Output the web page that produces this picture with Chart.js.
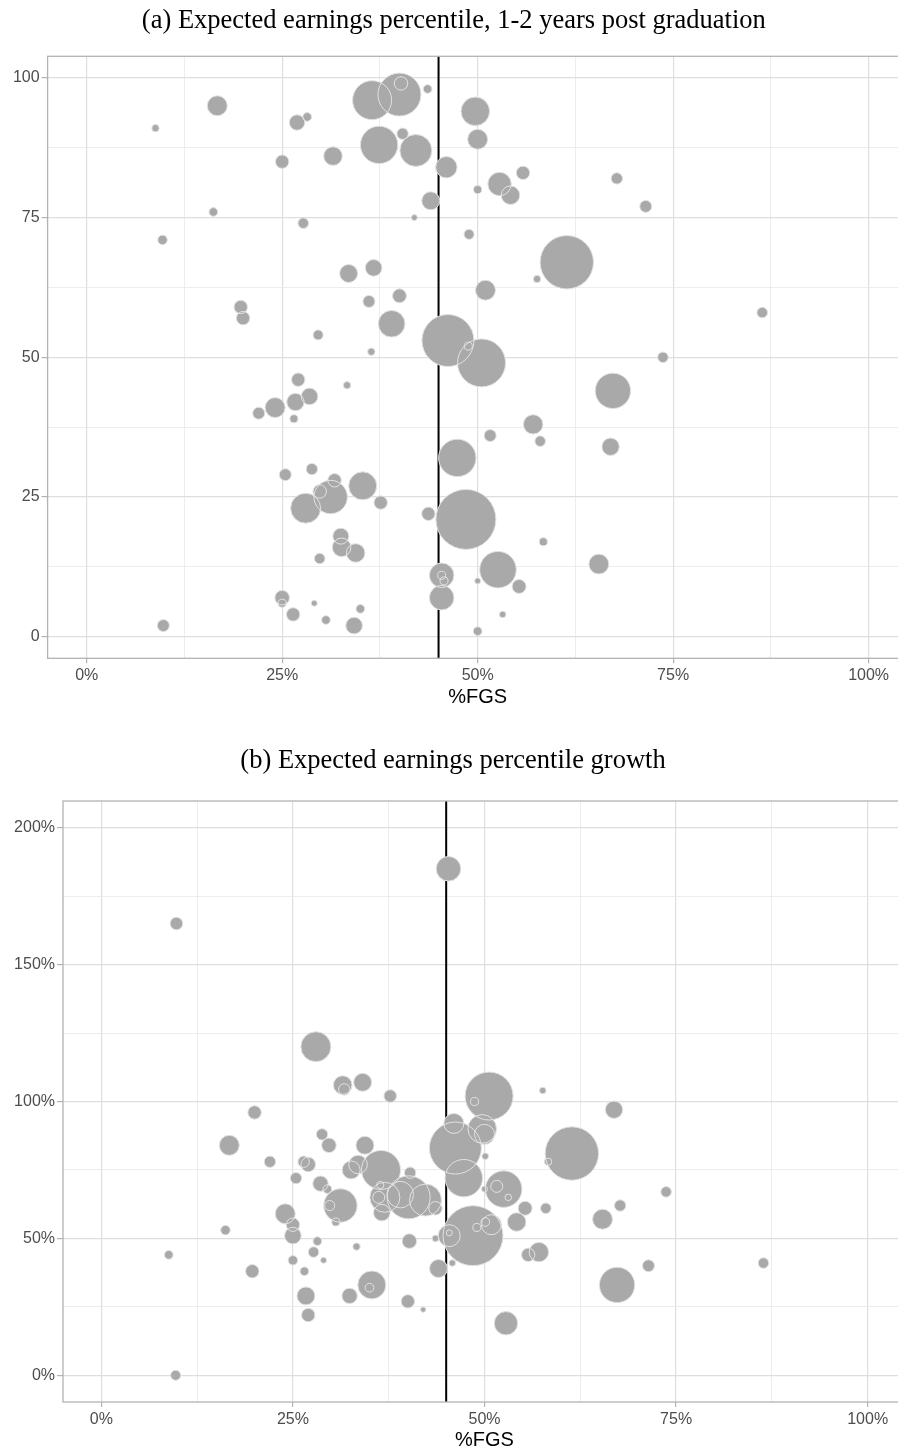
<!DOCTYPE html>
<html>
<head>
<meta charset="utf-8">
<script src="https://cdn.jsdelivr.net/npm/chart.js@4.4.1/dist/chart.umd.min.js"></script>
<style>
  html, body { margin: 0; padding: 0; background: #ffffff; overflow: hidden; }
  #wrap { position: relative; width: 898px; height: 1450px; overflow: hidden; }
  canvas { position: absolute; left: 0; }
  #chartA { top: 0; }
  #chartB { top: 715px; }
</style>
</head>
<body>
<div id="wrap">
  <canvas id="chartA" width="928" height="715"></canvas>
  <canvas id="chartB" width="928" height="745"></canvas>
</div>
<script>
// ---- Panel (a): expected earnings percentile, 1-2 years post graduation ----
const fgsA = [8.8, 16.7, 26.9, 28.2, 36.5, 40.0, 40.2, 43.6, 49.7, 50.0,
  25.0, 31.5, 37.4, 40.4, 42.1, 46.0, 50.0, 44.0, 41.9, 16.2,
  27.7, 9.7, 48.9, 33.5, 36.7, 36.1, 40.0, 19.7, 20.0, 39.0,
  29.6, 36.4, 46.2, 48.8, 50.5, 52.8, 54.2, 55.8, 67.8, 71.5,
  61.4, 57.6, 51.0, 86.4, 73.7, 27.05, 33.3, 28.5, 26.7, 24.1,
  22.0, 26.5, 47.4, 48.5, 43.7, 25.4, 28.8, 31.7, 29.8, 31.2,
  28.0, 35.3, 37.6, 32.5, 32.6, 34.4, 29.8, 45.4, 45.4, 45.7,
  45.4, 50.0, 50.0, 25.0, 25.0, 26.4, 29.1, 30.6, 35.0, 34.2,
  9.8, 67.3, 57.1, 51.6, 58.0, 67.0, 58.4, 65.5, 52.6, 55.3, 53.2];
const earningsPctA = [91, 95, 92, 93, 96, 97, 99, 98, 94, 89,
  85, 86, 88, 90, 87, 84, 80, 78, 75, 76,
  74, 71, 72, 65, 66, 60, 61, 59, 57, 56,
  54, 51, 53, 52, 49, 81, 79, 83, 82, 77,
  67, 64, 62, 58, 50, 46, 45, 43, 42, 41,
  40, 39, 32, 21, 22, 29, 30, 28, 26, 25,
  23, 27, 24, 18, 16, 15, 14, 11, 11, 10,
  7, 10, 1, 7, 6, 4, 6, 3, 5, 2,
  2, 44, 38, 36, 35, 34, 17, 13, 12, 9, 4];
const cohortA = [1.5, 11.1, 6.6, 2.1, 42.3, 51.4, 5.0, 2.1, 22.7, 11.1,
  5.0, 9.6, 38.9, 3.6, 28.4, 12.7, 1.8, 9.0, 1.0, 2.1,
  3.1, 2.5, 2.8, 9.0, 7.7, 4.0, 5.4, 5.0, 5.0, 19.7,
  2.8, 1.5, 75.1, 1.8, 64.0, 15.2, 9.6, 5.0, 3.6, 4.0,
  79.2, 1.5, 11.1, 3.1, 3.1, 5.0, 1.5, 7.7, 8.4, 11.1,
  4.0, 1.8, 38.9, 100, 5.0, 4.0, 3.6, 5.0, 5.0, 31.0,
  25.0, 21.8, 5.0, 7.1, 9.6, 9.6, 3.1, 16.8, 1.8, 1.8,
  16.8, 1.0, 2.1, 5.9, 1.8, 5.0, 1.0, 2.1, 2.1, 7.7,
  4.0, 34.8, 10.5, 4.0, 3.1, 8.4, 1.8, 11.1, 37.2, 5.4, 1.2];

// ---- Panel (b): expected earnings percentile growth ----
const fgsB = [45.3, 9.8, 28.0, 31.5, 31.7, 34.1, 37.7, 50.6, 48.7, 57.6,
  20.0, 16.7, 22.0, 28.8, 29.7, 34.4, 26.4, 27.0, 25.4, 28.6,
  29.5, 32.6, 33.5, 36.5, 40.3, 31.2, 29.8, 30.6, 37.0, 39.0,
  40.1, 42.3, 36.2, 36.4, 36.6, 43.6, 24.0, 25.0, 25.0, 16.2,
  8.8, 19.7, 28.2, 27.7, 25.0, 29.0, 26.5, 33.3, 26.7, 27.0,
  32.4, 35.3, 35.0, 40.2, 40.0, 42.0, 44.0, 45.8, 43.6, 9.7,
  46.0, 47.3, 49.7, 50.0, 46.2, 50.1, 61.4, 58.3, 66.9, 73.7,
  67.7, 65.4, 52.5, 51.6, 53.1, 50.0, 55.3, 58.0, 54.2, 48.5,
  45.4, 45.4, 49.0, 50.1, 50.9, 55.7, 57.1, 71.4, 67.3, 86.4, 52.8];
const growthB = [185, 165, 120, 106, 104.4, 107, 102, 102, 100, 104,
  96, 84, 78, 88, 84, 84, 78, 77, 72, 70,
  68, 75, 77, 75, 74, 62, 62, 56, 65, 66,
  65, 64, 65, 69.5, 59.4, 61, 59, 55, 51, 53,
  44, 38, 49, 45, 42, 42, 38, 47, 29, 22,
  29, 33, 32, 49, 27, 24, 39, 41, 50, 0,
  92, 72, 90, 88, 83, 80, 81, 78, 97, 67,
  62, 57, 68, 69, 65, 68, 61, 61, 56, 51,
  51, 52, 54, 56, 55, 44, 45, 40, 33, 41, 19];
const cohortB = [16.8, 4.4, 25.0, 9.6, 3.6, 9.0, 4.4, 64.0, 1.8, 1.2,
  5.0, 11.1, 3.6, 3.6, 5.9, 9.0, 3.6, 5.9, 3.6, 6.6,
  2.1, 9.0, 9.6, 42.3, 3.6, 31.0, 2.8, 1.8, 25.0, 19.7,
  51.4, 28.4, 4.0, 1.5, 7.7, 5.0, 11.1, 5.0, 7.7, 2.5,
  2.1, 5.0, 2.1, 3.1, 2.5, 1.0, 2.1, 1.5, 9.0, 5.0,
  6.6, 21.8, 2.1, 5.9, 5.0, 0.8, 9.0, 1.2, 1.2, 2.8,
  11.1, 38.9, 22.7, 11.1, 75.1, 1.2, 79.2, 1.5, 8.4, 3.1,
  3.6, 11.1, 37.2, 4.0, 1.2, 1.0, 5.4, 3.1, 9.6, 100,
  13.4, 1.0, 1.8, 2.1, 11.1, 5.0, 10.5, 4.0, 34.8, 3.1, 15.2];

// ---- Axis ticks and reference line ----
const xTickValues = [0, 25, 50, 75, 100];
const yTickValuesA = [0, 25, 50, 75, 100];
const yTickValuesB = [0, 50, 100, 150, 200];
const fgsAverage = 45;

// Area-proportional bubble radius
const bubbleRadius = w => 3 * Math.sqrt(w);

// Major ticks plus the minor midpoints between them
function withMinor(majors) {
  const out = [];
  majors.forEach((v, i) => {
    out.push(v);
    if (i < majors.length - 1) out.push((v + majors[i + 1]) / 2);
  });
  return out;
}

const SANS = "'Liberation Sans', Arial, Helvetica, sans-serif";
const SERIF = "'Liberation Serif', 'Times New Roman', Times, serif";
const GRID_MAJOR = '#dedede';
const GRID_MINOR = '#e9e9e9';
const FRAME = '#b3b3b3';

const panelDecor = {
  id: 'panelDecor',
  beforeDatasetsDraw(chart, args, opts) {
    const { ctx, chartArea, scales } = chart;
    const px = scales.x.getPixelForValue(opts.vline);
    ctx.save();
    ctx.strokeStyle = '#000000';
    ctx.lineWidth = 2;
    ctx.beginPath();
    ctx.moveTo(px, chartArea.top);
    ctx.lineTo(px, chartArea.bottom);
    ctx.stroke();
    ctx.restore();
  },
  afterDatasetsDraw(chart) {
    const { ctx, chartArea } = chart;
    ctx.save();
    ctx.strokeStyle = FRAME;
    ctx.lineWidth = 1.3;
    ctx.strokeRect(chartArea.left, chartArea.top,
      chartArea.right - chartArea.left, chartArea.bottom - chartArea.top);
    ctx.restore();
  }
};

function makeChart(id, cfg) {
  const points = cfg.x.map((x, i) => ({ x, y: cfg.y[i], r: bubbleRadius(cfg.w[i]) }));
  const isMajor = (list, c) => c.tick && list.includes(c.tick.value);
  return new Chart(document.getElementById(id), {
    type: 'bubble',
    data: {
      datasets: [
        { data: points, order: 1, backgroundColor: '#a9a9a9', borderWidth: 0 },
        { data: points, order: 0, backgroundColor: 'rgba(0,0,0,0)', borderColor: '#e2e2e2', borderWidth: 1 }
      ]
    },
    plugins: [panelDecor],
    options: {
      responsive: false,
      animation: false,
      events: [],
      devicePixelRatio: 1,
      layout: { autoPadding: false, padding: { left: 0, top: 0, bottom: 0, right: cfg.rightPad } },
      plugins: {
        legend: { display: false },
        tooltip: { enabled: false },
        panelDecor: { vline: fgsAverage },
        title: {
          display: true,
          text: cfg.title,
          color: '#000000',
          font: { family: SERIF, size: 26.5, weight: 'normal' },
          padding: cfg.titlePad
        }
      },
      scales: {
        x: {
          type: 'linear',
          min: -5, max: 105,
          afterBuildTicks: s => { s.ticks = withMinor(xTickValues).map(v => ({ value: v })); },
          afterFit: s => { s.height = cfg.xAxisHeight; s.paddingLeft = 0; s.paddingRight = 0; },
          border: { display: false },
          grid: {
            color: c => isMajor(xTickValues, c) ? GRID_MAJOR : GRID_MINOR,
            lineWidth: c => isMajor(xTickValues, c) ? 1.2 : 0.8,
            tickColor: c => isMajor(xTickValues, c) ? FRAME : 'rgba(0,0,0,0)',
            tickLength: 5,
            tickWidth: 1.2
          },
          ticks: {
            autoSkip: false, maxRotation: 0, padding: 3,
            color: '#4d4d4d',
            font: { family: SANS, size: 16 },
            callback: v => xTickValues.includes(v) ? v + '%' : ''
          },
          title: {
            display: true, text: '%FGS', color: '#000000',
            font: { family: SANS, size: 20 },
            padding: { top: 0, bottom: cfg.xTitleBottom }
          }
        },
        y: {
          type: 'linear',
          min: cfg.yMin, max: cfg.yMax,
          afterBuildTicks: s => { s.ticks = withMinor(cfg.yTicks).map(v => ({ value: v })); },
          afterFit: s => { s.width = cfg.yAxisWidth; s.paddingTop = 0; s.paddingBottom = 0; },
          border: { display: false },
          grid: {
            color: c => isMajor(cfg.yTicks, c) ? GRID_MAJOR : GRID_MINOR,
            lineWidth: c => isMajor(cfg.yTicks, c) ? 1.2 : 0.8,
            tickColor: c => isMajor(cfg.yTicks, c) ? FRAME : 'rgba(0,0,0,0)',
            tickLength: 6,
            tickWidth: 1.2
          },
          ticks: {
            autoSkip: false, padding: 2,
            color: '#4d4d4d',
            font: { family: SANS, size: 16 },
            callback: v => cfg.yTicks.includes(v) ? cfg.yFmt(v) : ''
          }
        }
      }
    }
  });
}

makeChart('chartA', {
  title: '(a) Expected earnings percentile, 1-2 years post graduation',
  titlePad: { top: 5.3, bottom: 19.2 },
  x: fgsA, y: earningsPctA, w: cohortA,
  yTicks: yTickValuesA, yFmt: v => String(v),
  yMin: -3.85, yMax: 103.85,
  yAxisWidth: 47.6, xAxisHeight: 56.7, xTitleBottom: 6, rightPad: 20.3
});

makeChart('chartB', {
  title: '(b) Expected earnings percentile growth',
  titlePad: { top: 30.1, bottom: 24.1 },
  x: fgsB, y: growthB, w: cohortB,
  yTicks: yTickValuesB, yFmt: v => v + '%',
  yMin: -9.75, yMax: 209.75,
  yAxisWidth: 63, xAxisHeight: 58, xTitleBottom: 7.5, rightPad: 22
});
</script>
</body>
</html>
